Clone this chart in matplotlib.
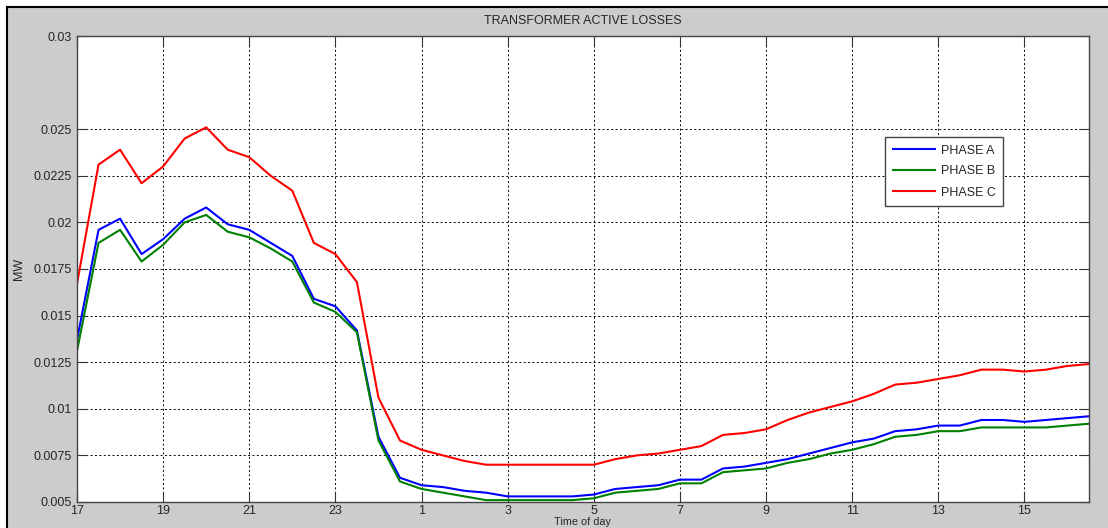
import matplotlib
matplotlib.use("Agg")
import matplotlib.pyplot as plt
from matplotlib.patches import Rectangle
from matplotlib.lines import Line2D

# Half-hourly samples from 17:00 through 16:30 of the following day
hours = [17 + 0.5 * i for i in range(48)]
tick_hours = [17, 19, 21, 23, 25, 27, 29, 31, 33, 35, 37, 39]
tick_labels = ["17", "19", "21", "23", "1", "3", "5", "7", "9", "11", "13", "15"]
y_ticks = [0.005, 0.0075, 0.01, 0.0125, 0.015, 0.0175, 0.02, 0.0225, 0.025, 0.03]
y_tick_labels = ["0.005", "0.0075", "0.01", "0.0125", "0.015", "0.0175",
                 "0.02", "0.0225", "0.025", "0.03"]

phase_a = [0.0137, 0.0196, 0.0202, 0.0183, 0.0191, 0.0202, 0.0208, 0.0199,
           0.0196, 0.0189, 0.0182, 0.0159, 0.0155, 0.0142, 0.0085, 0.0063,
           0.0059, 0.0058, 0.0056, 0.0055, 0.0053, 0.0053, 0.0053, 0.0053,
           0.0054, 0.0057, 0.0058, 0.0059, 0.0062, 0.0062, 0.0068, 0.0069,
           0.0071, 0.0073, 0.0076, 0.0079, 0.0082, 0.0084, 0.0088, 0.0089,
           0.0091, 0.0091, 0.0094, 0.0094, 0.0093, 0.0094, 0.0095, 0.0096]
phase_b = [0.0131, 0.0189, 0.0196, 0.0179, 0.0188, 0.0200, 0.0204, 0.0195,
           0.0192, 0.0186, 0.0179, 0.0157, 0.0152, 0.0141, 0.0083, 0.0061,
           0.0057, 0.0055, 0.0053, 0.0051, 0.0051, 0.0051, 0.0051, 0.0051,
           0.0052, 0.0055, 0.0056, 0.0057, 0.0060, 0.0060, 0.0066, 0.0067,
           0.0068, 0.0071, 0.0073, 0.0076, 0.0078, 0.0081, 0.0085, 0.0086,
           0.0088, 0.0088, 0.0090, 0.0090, 0.0090, 0.0090, 0.0091, 0.0092]
phase_c = [0.0167, 0.0231, 0.0239, 0.0221, 0.0230, 0.0245, 0.0251, 0.0239,
           0.0235, 0.0225, 0.0217, 0.0189, 0.0183, 0.0168, 0.0106, 0.0083,
           0.0078, 0.0075, 0.0072, 0.0070, 0.0070, 0.0070, 0.0070, 0.0070,
           0.0070, 0.0073, 0.0075, 0.0076, 0.0078, 0.0080, 0.0086, 0.0087,
           0.0089, 0.0094, 0.0098, 0.0101, 0.0104, 0.0108, 0.0113, 0.0114,
           0.0116, 0.0118, 0.0121, 0.0121, 0.0120, 0.0121, 0.0123, 0.0124]

series = [("PHASE A", phase_a, "#0000ff"),
          ("PHASE B", phase_b, "#008000"),
          ("PHASE C", phase_c, "#ff0000")]

W, H = 1108, 528
plt.rcParams["font.family"] = ["Liberation Sans", "DejaVu Sans"]
text_color = "#262626"

fig = plt.figure(figsize=(W / 100, H / 100), dpi=100, facecolor="white")

# Grey window panel with a dark frame on the top and left edges
fig.patches.append(Rectangle((7 / W, 0), 1 - 7 / W, 1 - 7 / H,
                             transform=fig.transFigure, facecolor="#cccccc",
                             edgecolor="none", zorder=-10))
fig.lines.append(Line2D([7 / W, 1], [1 - 7 / H, 1 - 7 / H],
                        transform=fig.transFigure, color="black", lw=1.5,
                        zorder=-5))
fig.lines.append(Line2D([7 / W, 7 / W], [0, 1 - 7 / H],
                        transform=fig.transFigure, color="black", lw=1.5,
                        zorder=-5))

ax_h = 502 - 36
ax = fig.add_axes([77 / W, (H - 502) / H, (1089 - 77) / W, ax_h / H])
ax.set_facecolor("white")

for name, vals, col in series:
    ax.plot(hours, vals, color=col, lw=1.5, label=name)

ax.set_xlim(17, 40.5)
ax.set_ylim(0.005, 0.03)
ax.set_xticks(tick_hours)
ax.set_xticklabels(tick_labels)
ax.set_yticks(y_ticks)
ax.set_yticklabels(y_tick_labels)

ax.grid(True, color="black", linestyle=(0, (2, 2.5)), linewidth=0.7)
ax.tick_params(direction="in", length=7, width=0.8, colors="#333333",
               top=True, right=True, labelsize=9, labelcolor=text_color, pad=4)
ax.tick_params(axis="x", pad=2.2)
for s in ax.spines.values():
    s.set_color("#444444")
    s.set_linewidth(1.0)

ax.set_title("TRANSFORMER ACTIVE LOSSES", fontsize=9, color=text_color, pad=9)
ax.set_ylabel("MW", fontsize=9, color=text_color, labelpad=6)
ax.set_xlabel("Time of day", fontsize=7.8, color=text_color)
ax.xaxis.set_label_coords(0.5, -(517.0 - 502) / ax_h)

leg = ax.legend(loc="upper left", bbox_to_anchor=(885 / W, 1 - 137 / H),
                bbox_transform=fig.transFigure, fontsize=9, frameon=True,
                fancybox=False, edgecolor="#444444", framealpha=1,
                handlelength=3.4, handletextpad=0.45, labelspacing=0.72,
                borderpad=0.6, borderaxespad=0)
leg.get_frame().set_linewidth(1.0)
for t in leg.get_texts():
    t.set_color(text_color)

fig.savefig("out.png", dpi=100, facecolor=fig.get_facecolor())
